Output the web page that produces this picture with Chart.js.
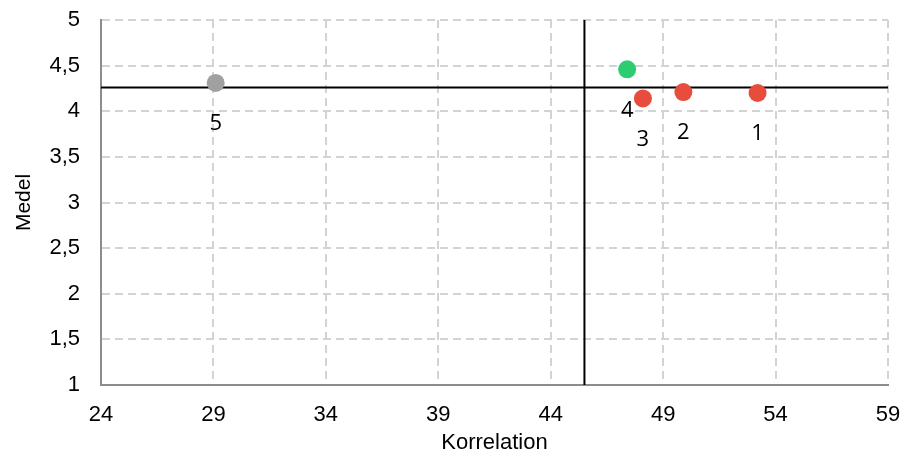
<!DOCTYPE html>
<html lang="sv">
<head>
    <meta charset="UTF-8">
    <title>Korrelation och medel</title>
    <script src="https://cdn.jsdelivr.net/npm/chart.js"></script>
    <style>
        html, body {
            margin: 0;
            padding: 0;
            background: #fff;
        }
        #wrap {
            width: 905px;
            height: 456px;
        }
    </style>
</head>
<body>
    <div id="wrap">
        <canvas id="scatterChart" width="905" height="456"></canvas>
    </div>

    <script>
        // Punkterna
        const korrelation = [53.2, 49.9, 48.1, 47.4, 29.1];
        const medel = [4.20, 4.21, 4.14, 4.46, 4.31];
        const punktEtiketter = ['1', '2', '3', '4', '5'];
        const punktFarger = ['#e74c3c', '#e74c3c', '#e74c3c', '#2ecc71', '#a0a0a0'];

        // Referenslinjer (medelvärden)
        const refKorrelation = 45.5;
        const refMedel = 4.26;

        // Axlar
        const xMin = 24, xMax = 59, xSteg = 5;
        const yMin = 1, yMax = 5, ySteg = 0.5;

        const punkter = korrelation.map((k, i) => ({ x: k, y: medel[i] }));

        const etikettPlugin = {
            id: 'etiketter',
            afterDatasetsDraw(chart) {
                const ctx = chart.ctx;
                const meta = chart.getDatasetMeta(0);
                ctx.save();
                ctx.font = '22px "Open Sans", sans-serif';
                ctx.fillStyle = '#000';
                ctx.textAlign = 'center';
                ctx.textBaseline = 'middle';
                meta.data.forEach((pt, i) => {
                    ctx.fillText(punktEtiketter[i], pt.x, pt.y + 41);
                });
                ctx.restore();
            }
        };

        const komma = v => String(v).replace('.', ',');

        Chart.defaults.font.family = '"Liberation Sans", Arial, sans-serif';
        Chart.defaults.color = '#000';

        const ctx = document.getElementById('scatterChart').getContext('2d');
        new Chart(ctx, {
            type: 'scatter',
            data: {
                datasets: [
                    {
                        label: 'Punkter',
                        data: punkter,
                        backgroundColor: punktFarger,
                        borderWidth: 0,
                        pointRadius: 9,
                        pointHoverRadius: 9
                    },
                    {
                        label: 'Korrelation medel',
                        data: [{ x: refKorrelation, y: yMin }, { x: refKorrelation, y: yMax }],
                        showLine: true,
                        borderColor: '#000',
                        borderWidth: 2,
                        pointRadius: 0
                    },
                    {
                        label: 'Medel',
                        data: [{ x: xMin, y: refMedel }, { x: xMax, y: refMedel }],
                        showLine: true,
                        borderColor: '#000',
                        borderWidth: 2,
                        pointRadius: 0
                    }
                ]
            },
            options: {
                responsive: false,
                animation: false,
                layout: { padding: { top: 20, right: 17, left: 0, bottom: 0 } },
                plugins: {
                    legend: { display: false },
                    tooltip: { enabled: false }
                },
                scales: {
                    x: {
                        type: 'linear',
                        min: xMin,
                        max: xMax,
                        afterFit(scale) {
                            scale.height = 71;
                            scale.paddingLeft = 0;
                            scale.paddingRight = 0;
                        },
                        ticks: {
                            stepSize: xSteg,
                            padding: 17,
                            font: { size: 22 },
                            callback: v => komma(v)
                        },
                        grid: { color: '#d3d3d3', lineWidth: 2, drawTicks: false },
                        border: { color: '#8c8c8c', width: 2, dash: [8, 5] },
                        title: {
                            display: true,
                            text: 'Korrelation',
                            font: { size: 22 },
                            padding: { top: 0, bottom: 0 }
                        }
                    },
                    y: {
                        type: 'linear',
                        min: yMin,
                        max: yMax,
                        afterFit(scale) {
                            scale.width = 101;
                            scale.paddingTop = 0;
                            scale.paddingBottom = 0;
                        },
                        ticks: {
                            stepSize: ySteg,
                            padding: 21,
                            font: { size: 22 },
                            callback: v => komma(v)
                        },
                        grid: { color: '#d3d3d3', lineWidth: 2, drawTicks: false },
                        border: { color: '#8c8c8c', width: 2, dash: [8, 5] },
                        title: {
                            display: true,
                            text: 'Medel',
                            font: { size: 21 },
                            padding: { top: 12, bottom: 0 }
                        }
                    }
                }
            },
            plugins: [etikettPlugin]
        });
    </script>
</body>
</html>
